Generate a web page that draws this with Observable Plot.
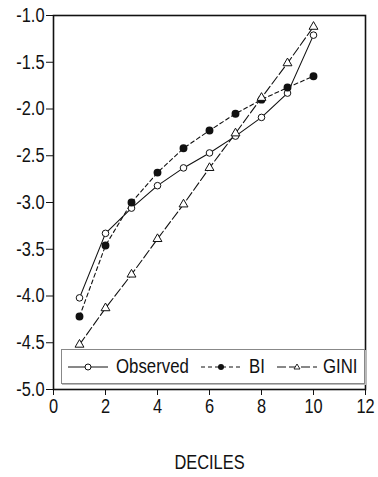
<!DOCTYPE html>
<html>
<head>
<meta charset="utf-8">
<script src="https://cdn.jsdelivr.net/npm/d3@7"></script>
<script src="https://cdn.jsdelivr.net/npm/@observablehq/plot@0.6"></script>
<style>
  html, body { margin: 0; padding: 0; background: #fff; }
  #wrap { position: relative; width: 378px; height: 477px; font-family: "Liberation Sans", Arial, sans-serif; }
  #wrap > svg { overflow: visible; }
  #wrap svg text { font-size: 20px; font-family: "Liberation Sans", Arial, sans-serif; fill: #111; }
  #legend { position: absolute; left: 61px; top: 349px; width: 304px; height: 35px; box-sizing: border-box;
    border: 1px solid #888; box-shadow: 1px 1px 0 #bbb; background: #fff; color: #111; }
  #legend svg.sample { position: absolute; top: 7px; }
  #legend span { position: absolute; top: 4px; font-size: 21px; line-height: 24px; white-space: nowrap;
    transform: scaleX(0.8); transform-origin: 0 50%; }
</style>
</head>
<body>
<div id="wrap"></div>
<script>
const deciles = [1, 2, 3, 4, 5, 6, 7, 8, 9, 10];
const observed = [-4.02, -3.33, -3.06, -2.82, -2.63, -2.47, -2.29, -2.09, -1.83, -1.21];
const bi = [-4.22, -3.46, -3.00, -2.68, -2.42, -2.23, -2.05, -1.90, -1.77, -1.65];
const gini = [-4.52, -4.13, -3.77, -3.39, -3.02, -2.63, -2.26, -1.88, -1.51, -1.12];
const seriesNames = ["Observed", "BI", "GINI"];
const xTicks = [0, 2, 4, 6, 8, 10, 12];
const yTicks = [-5.0, -4.5, -4.0, -3.5, -3.0, -2.5, -2.0, -1.5, -1.0];
const xTitle = "DECILES";

const toRows = (vals) => deciles.map((d, i) => ({ x: d, y: vals[i] }));
const obsRows = toRows(observed), biRows = toRows(bi), giniRows = toRows(gini);

const chart = Plot.plot({
  width: 378,
  height: 477,
  marginTop: 15,
  marginLeft: 53,
  marginRight: 13,
  marginBottom: 88,
  style: { fontSize: "20px", color: "#111", background: "#fff" },
  x: { domain: [0, 12] },
  y: { domain: [-5, -1] },
  marks: [
    Plot.axisX({ ticks: xTicks, tickSize: 6, tickPadding: 3, tickFormat: d => String(d), label: null }),
    Plot.text([xTitle], { frameAnchor: "bottom", dy: 79, text: d => d }),
    Plot.axisY({ ticks: yTicks, tickSize: 7, tickPadding: 2, tickFormat: d => d.toFixed(1), label: null }),
    Plot.line(obsRows, { x: "x", y: "y", stroke: "#111", strokeWidth: 1.1 }),
    Plot.line(biRows, { x: "x", y: "y", stroke: "#111", strokeWidth: 1.1, strokeDasharray: "4,3" }),
    Plot.line(giniRows, { x: "x", y: "y", stroke: "#111", strokeWidth: 1.1, strokeDasharray: "9,3" }),
    Plot.dot(obsRows, { x: "x", y: "y", r: 3.3, fill: "#fff", stroke: "#111", strokeWidth: 1 }),
    Plot.dot(biRows, { x: "x", y: "y", r: 3.2, fill: "#111", stroke: "#111" }),
    Plot.dot(giniRows, { x: "x", y: "y", r: 3.3, symbol: "triangle", fill: "#fff", stroke: "#111", strokeWidth: 1 }),
    Plot.frame({ stroke: "#111", strokeWidth: 1.6 })
  ]
});
document.getElementById("wrap").appendChild(chart);

// condense text horizontally (reference uses a narrow face)
chart.querySelectorAll("text").forEach(el => {
  const w = el.getComputedTextLength();
  if (w > 0) {
    el.setAttribute("textLength", (w * 0.82).toFixed(2));
    el.setAttribute("lengthAdjust", "spacingAndGlyphs");
  }
});

// legend
const legend = document.createElement("div");
legend.id = "legend";
const samples = [
  { name: seriesNames[0], dash: null, marker: "circle", lx: 6, tx: 54 },
  { name: seriesNames[1], dash: "4,3", marker: "dot", lx: 139, tx: 187 },
  { name: seriesNames[2], dash: "9,3", marker: "triangle", lx: 215, tx: 261 }
];
samples.forEach(s => {
  let marker = "";
  if (s.marker === "circle") marker = '<circle cx="20" cy="10" r="3" fill="#fff" stroke="#111"/>';
  if (s.marker === "dot") marker = '<circle cx="20" cy="10" r="3" fill="#111"/>';
  if (s.marker === "triangle") marker = '<path d="M20,7 L23,12 L17,12 Z" fill="#fff" stroke="#111" stroke-width="0.9"/>';
  legend.insertAdjacentHTML("beforeend",
    `<svg class="sample" width="40" height="20" style="left:${s.lx}px"><line x1="0" x2="40" y1="10" y2="10" stroke="#111" stroke-width="1"` +
    (s.dash ? ` stroke-dasharray="${s.dash}"` : "") + `/>${marker}</svg><span style="left:${s.tx}px">${s.name}</span>`);
});
document.getElementById("wrap").appendChild(legend);
</script>
</body>
</html>
